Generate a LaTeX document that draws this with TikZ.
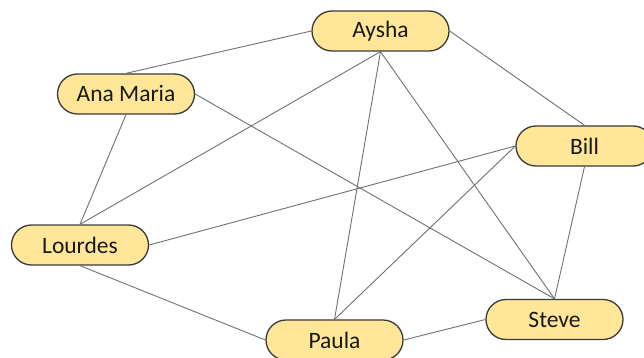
\documentclass[tikz,border=0pt]{standalone}
\usepackage{fontspec}
\setmainfont{Carlito}
\usetikzlibrary{shapes.misc}
\definecolor{boxfill}{HTML}{FFE699}
\definecolor{boxline}{HTML}{3A3A3A}
\definecolor{edgeline}{HTML}{707070}
\tikzset{
  person/.style={rounded rectangle, draw=boxline, line width=1.3pt, fill=boxfill,
    minimum width=137pt, minimum height=40pt, inner sep=0pt,
    font=\fontsize{23.5}{26}\selectfont, text=black!90},
  link/.style={draw=edgeline, line width=0.9pt}
}
\begin{document}
\begin{tikzpicture}[x=1pt, y=-1pt]
  \useasboundingbox (0,0) rectangle (644,358);

  % people
  \node[person] (aysha)   at (380.5, 31)  {Aysha};
  \node[person] (anamaria) at (126, 94)   {Ana Maria};
  \node[person] (bill)    at (584.5, 146) {Bill};
  \node[person] (lourdes) at (80, 245)    {Lourdes};
  \node[person] (paula)   at (334.5, 340) {Paula};
  \node[person] (steve)   at (554.5, 319.5) {Steve};

  % connections between connection points
  \draw[link] (anamaria.north) -- (aysha.west);
  \draw[link] (aysha.south) -- (lourdes.north);
  \draw[link] (aysha.south) -- (paula.north);
  \draw[link] (aysha.south) -- (steve.north);
  \draw[link] (aysha.east) -- (bill.north);
  \draw[link] (anamaria.east) -- (steve.north);
  \draw[link] (anamaria.south) -- (lourdes.north);
  \draw[link] (bill.west) -- (lourdes.east);
  \draw[link] (bill.west) -- (paula.north);
  \draw[link] (bill.south) -- (steve.north);
  \draw[link] (lourdes.south) -- (paula.west);
  \draw[link] (paula.east) -- (steve.west);
\end{tikzpicture}
\end{document}
